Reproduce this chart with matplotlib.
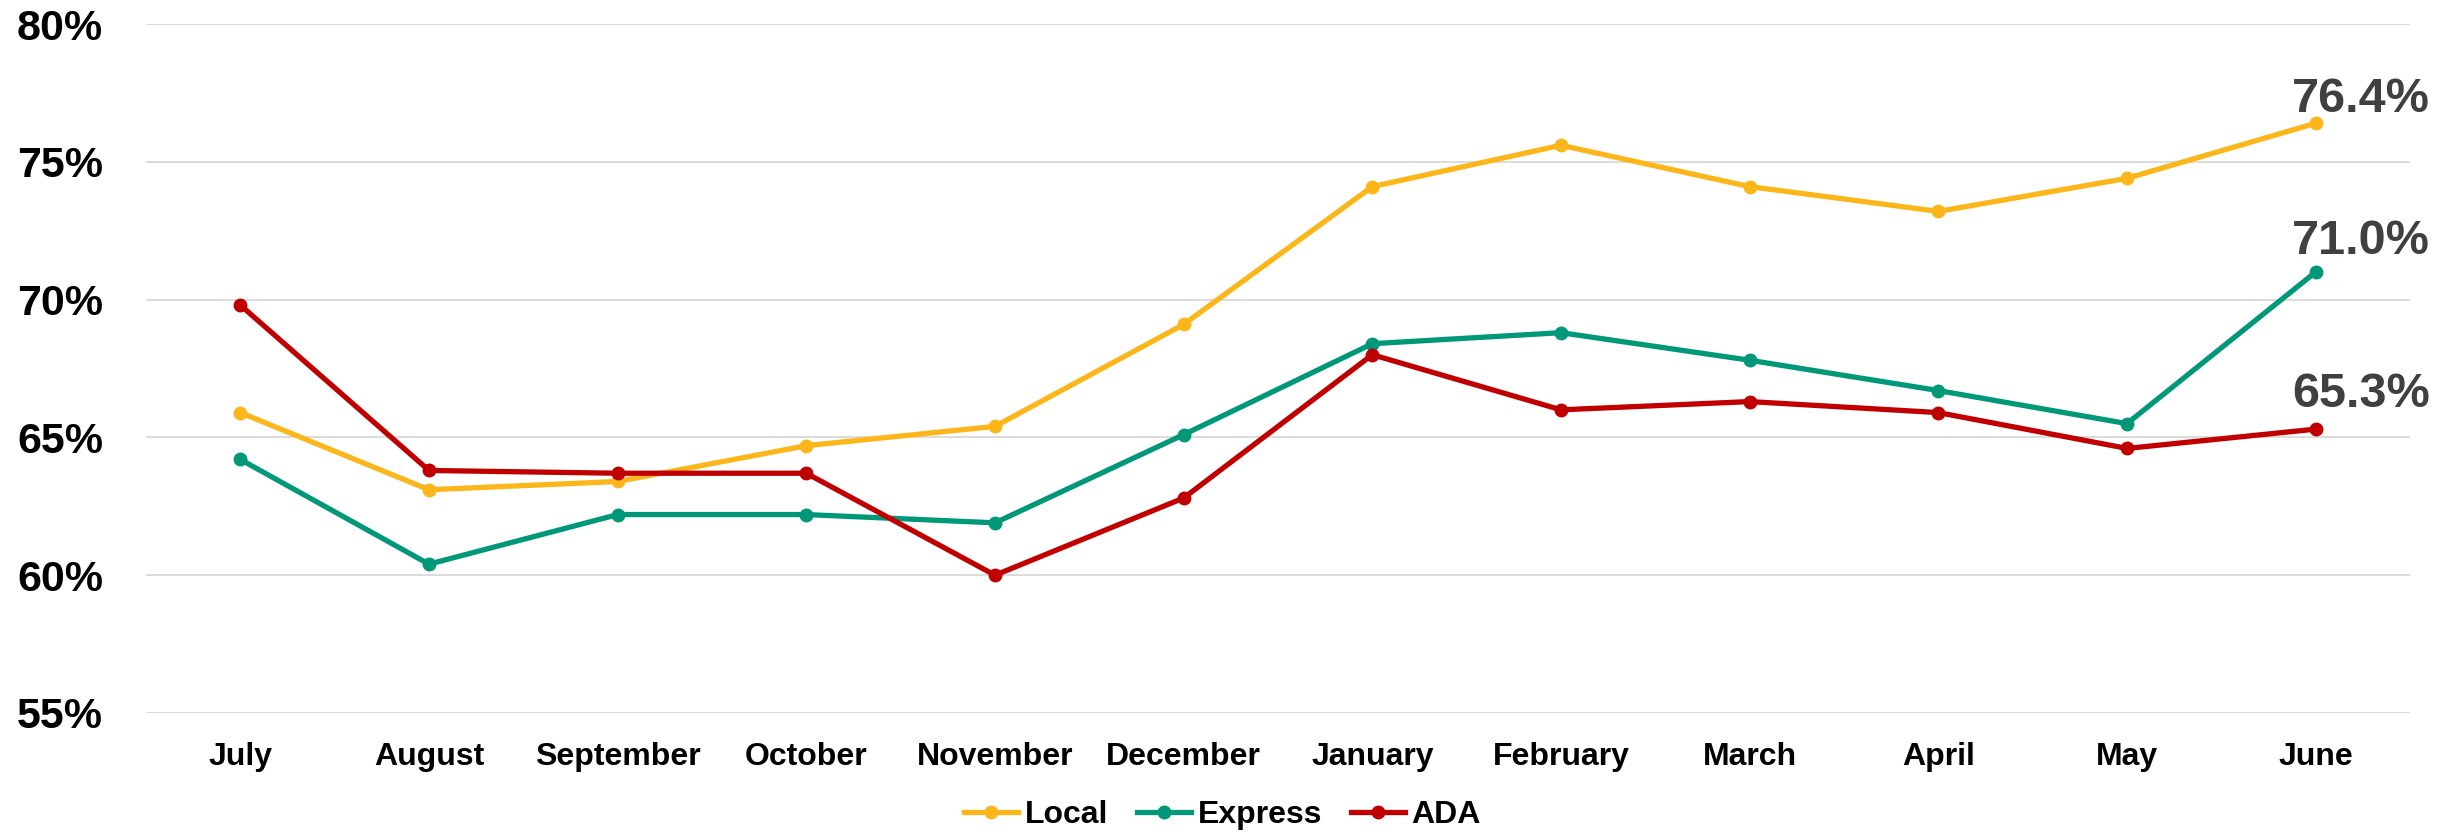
import matplotlib
matplotlib.use("Agg")
import matplotlib.pyplot as plt
from matplotlib.ticker import FuncFormatter

plt.rcParams['font.family'] = ['Liberation Sans', 'DejaVu Sans']
plt.rcParams['font.weight'] = 'bold'

months = ["July", "August", "September", "October", "November", "December",
          "January", "February", "March", "April", "May", "June"]
local = [65.9, 63.1, 63.4, 64.7, 65.4, 69.1, 74.1, 75.6, 74.1, 73.2, 74.4, 76.4]
express = [64.2, 60.4, 62.2, 62.2, 61.9, 65.1, 68.4, 68.8, 67.8, 66.7, 65.5, 71.0]
ada = [69.8, 63.8, 63.7, 63.7, 60.0, 62.8, 68.0, 66.0, 66.3, 65.9, 64.6, 65.3]
y_ticks = [55, 60, 65, 70, 75, 80]

series = [("Local", local, "#FDB61A"),
          ("Express", express, "#009878"),
          ("ADA", ada, "#C00000")]
# vertical offsets (points) of the end-of-line value labels
label_dy = [8, 13, 16]

fig = plt.figure(figsize=(24.45, 8.35), dpi=100)
ax = fig.add_axes([146 / 2445, 1 - 713 / 835, (2410 - 146) / 2445, (713 - 24) / 835])

x = list(range(len(months)))
for (name, vals, color), dy in zip(series, label_dy):
    ax.plot(x, vals, color=color, lw=3.8, marker="o", ms=9,
            label=name, solid_joinstyle="round", zorder=3)
    ax.annotate(f"{vals[-1]:.1f}%", xy=(x[-1], vals[-1]),
                xytext=(-17, dy), textcoords="offset points",
                ha="left", va="baseline", fontsize=35, fontweight="bold",
                color="#404040", annotation_clip=False)

ax.set_xlim(-0.5, len(months) - 0.5)
ax.set_ylim(55, 80)
ax.set_yticks(y_ticks)
ax.yaxis.set_major_formatter(FuncFormatter(lambda v, p: f"{v:.0f}%"))
ax.set_xticks(x)
ax.set_xticklabels(months)

ax.tick_params(axis="y", length=0, pad=31, labelsize=31)
ax.tick_params(axis="x", length=0, pad=21, labelsize=23)
for lab in ax.get_xticklabels() + ax.get_yticklabels():
    lab.set_fontweight("bold")

ax.grid(axis="y", color="#D9D9D9", lw=1.3, zorder=0)
ax.set_axisbelow(True)
for s in ax.spines.values():
    s.set_visible(False)

fig.legend(loc="center", bbox_to_anchor=(0.5, 1 - 815 / 835), ncol=3,
           frameon=False, fontsize=23, handlelength=1.7, handletextpad=0.2,
           columnspacing=0.9, numpoints=1,
           prop={"weight": "bold", "size": 23})

fig.savefig("out.png", dpi=100, facecolor="white")
